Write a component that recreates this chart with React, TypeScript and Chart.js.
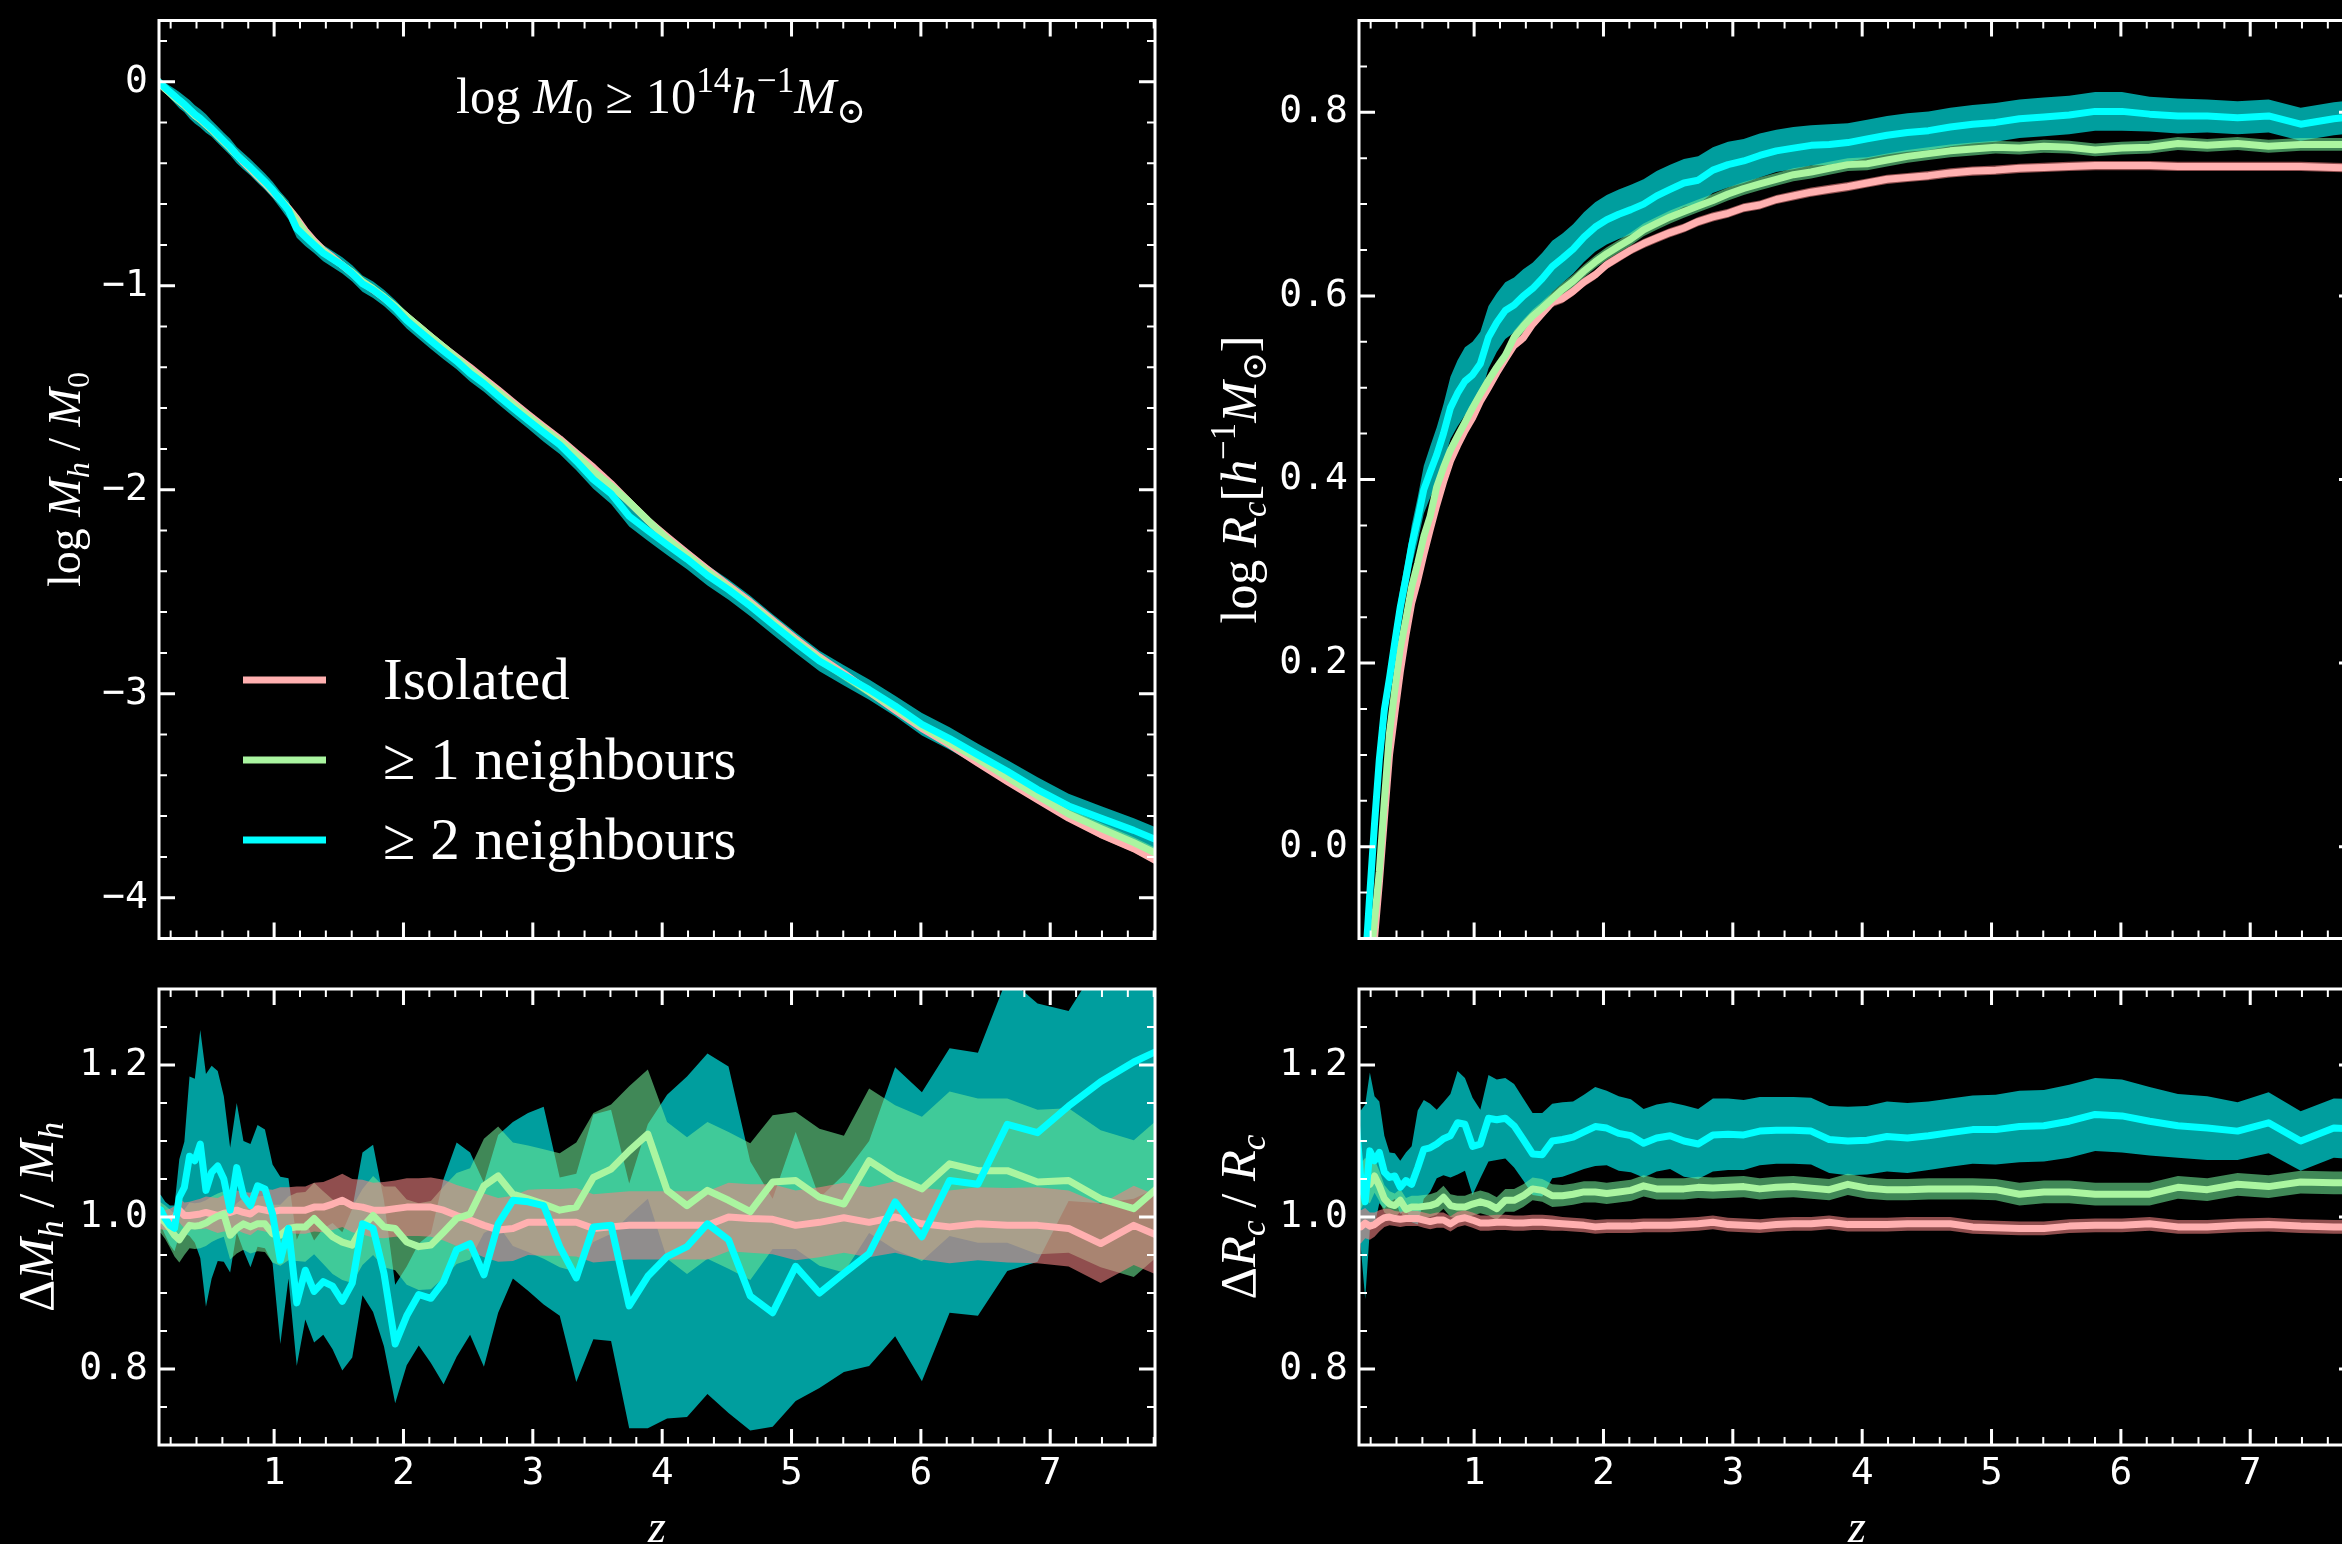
import { useEffect, useRef } from 'react';
import { Chart, registerables } from 'chart.js';

Chart.register(...registerables);

// Redshift of every snapshot (shared by all four panels)
const Z = [
  0.091, 0.124, 0.158, 0.194, 0.23, 0.267, 0.306, 0.346, 0.387, 0.429,
  0.473, 0.517, 0.564, 0.611, 0.66, 0.711, 0.763, 0.817, 0.872, 0.929,
  0.988, 1.048, 1.111, 1.175, 1.241, 1.309, 1.38, 1.452, 1.527, 1.604,
  1.683, 1.765, 1.849, 1.936, 2.025, 2.118, 2.212, 2.31, 2.411, 2.515,
  2.622, 2.732, 2.846, 2.963, 3.084, 3.208, 3.336, 3.468, 3.605, 3.745,
  3.889, 4.038, 4.192, 4.35, 4.513, 4.681, 4.854, 5.032, 5.216, 5.405,
  5.6, 5.801, 6.008, 6.222, 6.441, 6.668, 6.902, 7.142, 7.39, 7.646,
  7.909,
];

// ---- log M_h / M_0 (top left) ----
const MH_ISO = [
  0.01, -0.015, -0.035, -0.055, -0.075, -0.095, -0.115, -0.14, -0.165, -0.185,
  -0.21, -0.235, -0.265, -0.295, -0.325, -0.36, -0.395, -0.43, -0.465, -0.5,
  -0.54, -0.58, -0.62, -0.67, -0.73, -0.78, -0.825, -0.86, -0.9, -0.94,
  -0.985, -1.02, -1.06, -1.105, -1.15, -1.2, -1.25, -1.3, -1.35, -1.4,
  -1.455, -1.51, -1.57, -1.63, -1.69, -1.75, -1.82, -1.89, -1.97, -2.06,
  -2.15, -2.23, -2.31, -2.39, -2.47, -2.55, -2.64, -2.73, -2.82, -2.9,
  -2.99, -3.08, -3.17, -3.25, -3.34, -3.43, -3.52, -3.61, -3.69, -3.76,
  -3.85,
];
const MH_ISO_ERR = [
  0.012, 0.012, 0.012, 0.012, 0.012, 0.013, 0.013, 0.013, 0.013, 0.013,
  0.013, 0.013, 0.013, 0.013, 0.013, 0.014, 0.014, 0.014, 0.014, 0.014,
  0.014, 0.014, 0.014, 0.014, 0.014, 0.014, 0.014, 0.014, 0.014, 0.014,
  0.015, 0.015, 0.015, 0.015, 0.015, 0.015, 0.015, 0.015, 0.015, 0.015,
  0.015, 0.015, 0.015, 0.015, 0.015, 0.015, 0.015, 0.015, 0.015, 0.015,
  0.016, 0.016, 0.016, 0.016, 0.016, 0.016, 0.016, 0.016, 0.016, 0.016,
  0.016, 0.016, 0.016, 0.017, 0.017, 0.017, 0.017, 0.017, 0.017, 0.017,
  0.017,
];
const MH_ONE = [
  0.01, -0.015, -0.035, -0.055, -0.075, -0.095, -0.115, -0.14, -0.165, -0.185,
  -0.21, -0.235, -0.265, -0.295, -0.325, -0.36, -0.39, -0.425, -0.46, -0.495,
  -0.535, -0.575, -0.625, -0.68, -0.74, -0.79, -0.83, -0.865, -0.9, -0.935,
  -0.98, -1.015, -1.055, -1.1, -1.15, -1.2, -1.25, -1.3, -1.355, -1.41,
  -1.465, -1.52, -1.58, -1.64, -1.7, -1.76, -1.83, -1.91, -1.98, -2.06,
  -2.15, -2.24, -2.32, -2.4, -2.48, -2.56, -2.65, -2.74, -2.83, -2.91,
  -2.99, -3.07, -3.16, -3.24, -3.32, -3.41, -3.5, -3.59, -3.66, -3.73,
  -3.81,
];
const MH_ONE_ERR = [
  0.015, 0.016, 0.017, 0.018, 0.018, 0.019, 0.019, 0.02, 0.02, 0.02,
  0.02, 0.02, 0.02, 0.02, 0.02, 0.02, 0.02, 0.02, 0.02, 0.02,
  0.02, 0.021, 0.021, 0.021, 0.021, 0.021, 0.021, 0.021, 0.021, 0.021,
  0.021, 0.021, 0.021, 0.022, 0.022, 0.022, 0.022, 0.022, 0.022, 0.022,
  0.022, 0.022, 0.022, 0.022, 0.022, 0.023, 0.023, 0.023, 0.023, 0.023,
  0.023, 0.023, 0.023, 0.023, 0.024, 0.024, 0.024, 0.024, 0.024, 0.024,
  0.024, 0.025, 0.025, 0.025, 0.025, 0.025, 0.026, 0.026, 0.026, 0.026,
  0.026,
];
const MH_TWO = [
  0.01, -0.01, -0.03, -0.05, -0.07, -0.09, -0.11, -0.135, -0.16, -0.18,
  -0.205, -0.23, -0.26, -0.29, -0.32, -0.36, -0.39, -0.42, -0.455, -0.49,
  -0.53, -0.58, -0.63, -0.72, -0.76, -0.8, -0.84, -0.87, -0.9, -0.94,
  -0.99, -1.02, -1.06, -1.11, -1.17, -1.22, -1.27, -1.32, -1.37, -1.43,
  -1.48, -1.54, -1.6, -1.66, -1.72, -1.78, -1.86, -1.95, -2.02, -2.13,
  -2.2, -2.27, -2.34, -2.42, -2.49, -2.57, -2.66, -2.75, -2.84, -2.91,
  -2.98, -3.06, -3.15, -3.22, -3.3, -3.38, -3.47, -3.55, -3.61, -3.67,
  -3.74,
];
const MH_TWO_ERR = [
  0.015, 0.02, 0.025, 0.03, 0.035, 0.04, 0.04, 0.045, 0.045, 0.045,
  0.045, 0.04, 0.04, 0.04, 0.04, 0.04, 0.04, 0.04, 0.04, 0.04,
  0.04, 0.04, 0.045, 0.045, 0.045, 0.04, 0.04, 0.04, 0.04, 0.04,
  0.04, 0.04, 0.04, 0.04, 0.04, 0.04, 0.04, 0.04, 0.04, 0.04,
  0.04, 0.04, 0.04, 0.04, 0.045, 0.045, 0.045, 0.045, 0.05, 0.05,
  0.05, 0.05, 0.05, 0.05, 0.05, 0.05, 0.05, 0.05, 0.05, 0.05,
  0.05, 0.05, 0.055, 0.055, 0.055, 0.055, 0.06, 0.06, 0.06, 0.06,
  0.06,
];

// ---- log R_c (top right) ----
const RC_ISO = [
  -0.45, -0.33, -0.24, -0.155, -0.1, -0.04, 0.03, 0.1, 0.145, 0.19,
  0.23, 0.265, 0.29, 0.318, 0.345, 0.372, 0.397, 0.42, 0.437, 0.453,
  0.467, 0.485, 0.5, 0.516, 0.531, 0.546, 0.554, 0.569, 0.581, 0.593,
  0.597, 0.605, 0.615, 0.623, 0.634, 0.642, 0.65, 0.657, 0.663, 0.669,
  0.674, 0.681, 0.686, 0.69, 0.696, 0.699, 0.705, 0.709, 0.713, 0.716,
  0.719, 0.723, 0.727, 0.729, 0.731, 0.734, 0.736, 0.737, 0.739, 0.74,
  0.741, 0.742, 0.742, 0.742, 0.741, 0.741, 0.741, 0.741, 0.741, 0.74,
  0.739,
];
const RC_ISO_ERR = [
  0.008, 0.008, 0.008, 0.008, 0.007, 0.007, 0.007, 0.006, 0.006, 0.006,
  0.006, 0.006, 0.006, 0.006, 0.005, 0.005, 0.005, 0.005, 0.005, 0.005,
  0.005, 0.005, 0.005, 0.005, 0.005, 0.005, 0.005, 0.005, 0.005, 0.005,
  0.005, 0.005, 0.005, 0.005, 0.005, 0.005, 0.005, 0.005, 0.005, 0.005,
  0.005, 0.005, 0.005, 0.005, 0.005, 0.005, 0.005, 0.005, 0.005, 0.005,
  0.005, 0.005, 0.005, 0.005, 0.005, 0.005, 0.005, 0.005, 0.005, 0.005,
  0.005, 0.005, 0.005, 0.005, 0.005, 0.005, 0.005, 0.005, 0.005, 0.005,
  0.005,
];
const RC_ONE = [
  -0.38, -0.28, -0.2, -0.13, -0.08, -0.027, 0.05, 0.124, 0.171, 0.216,
  0.248, 0.283, 0.309, 0.338, 0.36, 0.392, 0.413, 0.432, 0.447, 0.462,
  0.478, 0.493, 0.508, 0.522, 0.535, 0.555, 0.567, 0.578, 0.587, 0.597,
  0.607, 0.616, 0.627, 0.637, 0.646, 0.654, 0.662, 0.672, 0.679, 0.686,
  0.692, 0.698, 0.704, 0.711, 0.717, 0.722, 0.727, 0.732, 0.735, 0.739,
  0.743, 0.744, 0.748, 0.752, 0.755, 0.758, 0.76, 0.762, 0.761, 0.763,
  0.762, 0.759, 0.761, 0.762, 0.766, 0.764, 0.766, 0.763, 0.765, 0.765,
  0.765,
];
const RC_ONE_ERR = [
  0.01, 0.01, 0.01, 0.01, 0.01, 0.01, 0.01, 0.01, 0.01, 0.01,
  0.008, 0.008, 0.008, 0.008, 0.008, 0.008, 0.008, 0.008, 0.008, 0.008,
  0.007, 0.007, 0.007, 0.007, 0.007, 0.007, 0.007, 0.007, 0.007, 0.007,
  0.007, 0.007, 0.007, 0.007, 0.007, 0.007, 0.007, 0.007, 0.007, 0.007,
  0.007, 0.007, 0.007, 0.007, 0.007, 0.007, 0.007, 0.007, 0.007, 0.007,
  0.007, 0.007, 0.007, 0.007, 0.007, 0.007, 0.007, 0.007, 0.007, 0.007,
  0.007, 0.007, 0.007, 0.007, 0.007, 0.007, 0.007, 0.007, 0.007, 0.007,
  0.007,
];
const RC_TWO = [
  -0.3, -0.2, -0.13, -0.05, 0.025, 0.095, 0.149, 0.184, 0.223, 0.261,
  0.293, 0.328, 0.357, 0.389, 0.408, 0.427, 0.45, 0.478, 0.494, 0.507,
  0.514, 0.526, 0.555, 0.571, 0.584, 0.59, 0.6, 0.608, 0.619, 0.632,
  0.641, 0.651, 0.664, 0.675, 0.683, 0.689, 0.694, 0.7, 0.709, 0.716,
  0.723, 0.726, 0.737, 0.743, 0.747, 0.753, 0.758, 0.761, 0.764, 0.765,
  0.767, 0.771, 0.775, 0.778, 0.78, 0.784, 0.787, 0.789, 0.793, 0.795,
  0.797, 0.801, 0.801, 0.798, 0.796, 0.796, 0.794, 0.796, 0.787, 0.793,
  0.797,
];
const RC_TWO_ERR = [
  0.015, 0.015, 0.015, 0.015, 0.016, 0.017, 0.018, 0.019, 0.02, 0.02,
  0.02, 0.022, 0.024, 0.026, 0.028, 0.03, 0.032, 0.034, 0.036, 0.037,
  0.036, 0.035, 0.034, 0.032, 0.031, 0.03, 0.029, 0.028, 0.028, 0.028,
  0.027, 0.027, 0.027, 0.027, 0.027, 0.027, 0.027, 0.027, 0.027, 0.027,
  0.026, 0.026, 0.025, 0.025, 0.024, 0.024, 0.023, 0.023, 0.022, 0.022,
  0.021, 0.021, 0.021, 0.021, 0.021, 0.021, 0.021, 0.021, 0.021, 0.021,
  0.021, 0.021, 0.021, 0.019, 0.019, 0.018, 0.018, 0.018, 0.018, 0.018,
  0.018,
];

// ---- Delta M_h / M_h (bottom left) ----
const DM_ISO = [
  0.996, 0.996, 0.996, 0.997, 0.999, 1.009, 1.002, 1.002, 1.003, 1.004,
  1.006, 1.004, 1.002, 1.005, 1.006, 1.009, 1.006, 1.004, 1.011, 1.009,
  1.007, 1.009, 1.009, 1.009, 1.009, 1.013, 1.013, 1.017, 1.022, 1.015,
  1.013, 1.009, 1.009, 1.011, 1.013, 1.013, 1.013, 1.009, 1.002, 0.996,
  0.989, 0.983, 0.985, 0.993, 0.993, 0.993, 0.993, 0.985, 0.987, 0.989,
  0.989, 0.989, 0.989, 0.989, 1.0, 0.998, 0.997, 0.989, 0.993, 0.999,
  0.993, 1.0, 0.991, 0.987, 0.991, 0.989, 0.989, 0.985, 0.965, 0.989,
  0.97,
];
const DM_ISO_ERR = [
  0.012, 0.012, 0.013, 0.014, 0.015, 0.016, 0.017, 0.018, 0.019, 0.02,
  0.021, 0.022, 0.023, 0.024, 0.025, 0.026, 0.027, 0.028, 0.028, 0.028,
  0.029, 0.03, 0.03, 0.031, 0.031, 0.032, 0.033, 0.034, 0.035, 0.035,
  0.036, 0.036, 0.037, 0.037, 0.038, 0.038, 0.039, 0.04, 0.04, 0.041,
  0.042, 0.042, 0.043, 0.043, 0.044, 0.044, 0.045, 0.045, 0.045, 0.045,
  0.045, 0.045, 0.045, 0.045, 0.045, 0.045, 0.046, 0.046, 0.046, 0.046,
  0.046, 0.047, 0.047, 0.048, 0.048, 0.049, 0.05, 0.05, 0.052, 0.052,
  0.052,
];
const DM_ONE = [
  1.0, 0.999, 0.993, 0.985, 0.976, 0.97, 0.98, 0.989, 0.988, 0.989,
  0.992, 0.997, 1.001, 1.004, 0.976, 0.985, 0.991, 0.987, 0.991, 0.991,
  0.978, 0.976, 0.985, 0.987, 0.987, 0.998, 0.986, 0.974, 0.967, 0.963,
  0.987, 1.002, 0.987, 0.985, 0.967, 0.961, 0.963, 0.98, 0.998, 1.004,
  1.041, 1.054, 1.03, 1.024, 1.017, 1.009, 1.013, 1.052, 1.063, 1.087,
  1.109, 1.035, 1.015, 1.035, 1.022, 1.007, 1.046, 1.048, 1.026, 1.017,
  1.074, 1.052, 1.037, 1.07, 1.061, 1.061, 1.046, 1.048, 1.024, 1.011,
  1.05,
];
const DM_ONE_ERR = [
  0.02, 0.02, 0.022, 0.025, 0.028, 0.03, 0.03, 0.03, 0.03, 0.03,
  0.03, 0.03, 0.03, 0.03, 0.032, 0.033, 0.034, 0.035, 0.036, 0.037,
  0.038, 0.04, 0.042, 0.045, 0.046, 0.047, 0.048, 0.049, 0.05, 0.05,
  0.05, 0.052, 0.053, 0.055, 0.056, 0.057, 0.058, 0.06, 0.06, 0.06,
  0.062, 0.065, 0.068, 0.07, 0.072, 0.075, 0.085, 0.085, 0.085, 0.085,
  0.085, 0.09, 0.09, 0.09, 0.09, 0.09, 0.088, 0.09, 0.09, 0.09,
  0.095, 0.095, 0.095, 0.095, 0.095, 0.095, 0.095, 0.095, 0.09, 0.09,
  0.09,
];
const DM_TWO = [
  1.012, 1.009, 0.998, 0.989, 0.985, 1.026, 1.039, 1.08, 1.074, 1.096,
  1.035, 1.059, 1.067, 1.05, 1.009, 1.065, 1.028, 1.015, 1.041, 1.037,
  1.004, 0.943, 0.985, 0.887, 0.93, 0.902, 0.915, 0.909, 0.889, 0.913,
  0.991, 0.985, 0.926, 0.833, 0.87, 0.898, 0.893, 0.915, 0.957, 0.965,
  0.924, 0.991, 1.022, 1.02, 1.015, 0.961, 0.92, 0.987, 0.989, 0.883,
  0.922, 0.948, 0.961, 0.991, 0.97, 0.896, 0.874, 0.935, 0.9, 0.926,
  0.952, 1.02, 0.974, 1.048, 1.043, 1.122, 1.111, 1.146, 1.178, 1.204,
  1.225,
];
const DM_TWO_ERR = [
  0.02, 0.02, 0.022, 0.026, 0.03, 0.05, 0.06, 0.105, 0.108, 0.15,
  0.153, 0.14, 0.125, 0.109, 0.082, 0.085, 0.072, 0.081, 0.08, 0.078,
  0.065, 0.11, 0.066, 0.083, 0.065, 0.067, 0.07, 0.083, 0.091, 0.098,
  0.094, 0.11, 0.096, 0.078, 0.065, 0.067, 0.085, 0.135, 0.141, 0.12,
  0.121, 0.117, 0.103, 0.117, 0.13, 0.091, 0.137, 0.148, 0.152, 0.161,
  0.2, 0.213, 0.224, 0.224, 0.228, 0.177, 0.15, 0.177, 0.125, 0.13,
  0.148, 0.177, 0.19, 0.174, 0.173, 0.193, 0.17, 0.125, 0.16, 0.18,
  0.18,
];

// ---- Delta R_c / R_c (bottom right) ----
const DR_ISO = [
  0.99, 0.987, 0.992, 0.988, 0.99, 0.995, 0.999, 1.0, 0.998, 0.997,
  0.998, 0.998, 0.998, 0.996, 0.994, 0.996, 0.996, 0.991, 0.997, 0.999,
  0.996, 0.992, 0.992, 0.993, 0.993, 0.992, 0.992, 0.993, 0.993, 0.992,
  0.991, 0.99, 0.989, 0.987, 0.988, 0.988, 0.988, 0.989, 0.989, 0.989,
  0.99, 0.991, 0.993, 0.99, 0.989, 0.988, 0.99, 0.991, 0.991, 0.993,
  0.99, 0.99, 0.99, 0.991, 0.991, 0.991, 0.987, 0.986, 0.985, 0.985,
  0.988, 0.989, 0.989, 0.991, 0.987, 0.987, 0.989, 0.99, 0.988, 0.987,
  0.987,
];
const DR_ISO_ERR = [
  0.022, 0.022, 0.02, 0.018, 0.016, 0.014, 0.012, 0.011, 0.01, 0.01,
  0.01, 0.01, 0.01, 0.01, 0.01, 0.01, 0.01, 0.01, 0.01, 0.01,
  0.01, 0.01, 0.01, 0.01, 0.01, 0.01, 0.01, 0.01, 0.01, 0.01,
  0.009, 0.009, 0.009, 0.009, 0.009, 0.009, 0.009, 0.009, 0.009, 0.009,
  0.009, 0.009, 0.009, 0.009, 0.009, 0.009, 0.009, 0.009, 0.009, 0.009,
  0.009, 0.009, 0.009, 0.009, 0.009, 0.009, 0.009, 0.009, 0.009, 0.009,
  0.009, 0.009, 0.009, 0.009, 0.009, 0.009, 0.009, 0.009, 0.009, 0.009,
  0.009,
];
const DR_ONE = [
  1.03, 1.04, 1.05, 1.043, 1.054, 1.041, 1.024, 1.017, 1.015, 1.022,
  1.01, 1.013, 1.013, 1.014, 1.015, 1.018, 1.026, 1.015, 1.013, 1.013,
  1.017, 1.02, 1.017, 1.011, 1.022, 1.022, 1.028, 1.037, 1.035, 1.028,
  1.028, 1.03, 1.033, 1.033, 1.031, 1.033, 1.035, 1.041, 1.037, 1.037,
  1.037, 1.039, 1.038, 1.039, 1.04, 1.037, 1.039, 1.04, 1.038, 1.036,
  1.043, 1.038, 1.036, 1.036, 1.037, 1.037, 1.037, 1.036, 1.03, 1.033,
  1.033, 1.03, 1.03, 1.03, 1.039, 1.036, 1.043, 1.04, 1.046, 1.045,
  1.045,
];
const DR_ONE_ERR = [
  0.03, 0.03, 0.028, 0.025, 0.022, 0.02, 0.018, 0.017, 0.016, 0.015,
  0.015, 0.015, 0.015, 0.015, 0.015, 0.015, 0.015, 0.015, 0.015, 0.015,
  0.015, 0.015, 0.015, 0.015, 0.015, 0.015, 0.015, 0.015, 0.015, 0.015,
  0.014, 0.014, 0.014, 0.014, 0.014, 0.014, 0.014, 0.014, 0.014, 0.014,
  0.014, 0.014, 0.014, 0.014, 0.014, 0.014, 0.014, 0.014, 0.014, 0.014,
  0.014, 0.014, 0.014, 0.014, 0.014, 0.014, 0.014, 0.014, 0.015, 0.015,
  0.015, 0.015, 0.015, 0.015, 0.015, 0.015, 0.015, 0.015, 0.015, 0.015,
  0.015,
];
const DR_TWO = [
  1.12, 1.05, 1.02, 1.087, 1.074, 1.085, 1.059, 1.052, 1.054, 1.039,
  1.048, 1.043, 1.065, 1.089, 1.091, 1.096, 1.103, 1.107, 1.124, 1.122,
  1.093, 1.096, 1.13, 1.128, 1.13, 1.12, 1.102, 1.083, 1.082, 1.1,
  1.102, 1.105, 1.112, 1.119, 1.117, 1.11, 1.107, 1.097, 1.104, 1.107,
  1.1, 1.096, 1.108, 1.109, 1.108, 1.113, 1.114, 1.114, 1.113, 1.102,
  1.1, 1.101, 1.106, 1.104, 1.107, 1.111, 1.115, 1.115, 1.119, 1.12,
  1.126, 1.135, 1.133, 1.126, 1.12, 1.117, 1.113, 1.124, 1.1, 1.117,
  1.115,
];
const DR_TWO_ERR = [
  0.08, 0.09, 0.128, 0.103, 0.085, 0.067, 0.048, 0.033, 0.03, 0.035,
  0.037, 0.05, 0.075, 0.065, 0.058, 0.045, 0.048, 0.055, 0.068, 0.061,
  0.064, 0.045, 0.057, 0.053, 0.053, 0.055, 0.054, 0.054, 0.055, 0.049,
  0.049, 0.047, 0.049, 0.052, 0.049, 0.049, 0.048, 0.045, 0.044, 0.044,
  0.047, 0.046, 0.048, 0.047, 0.046, 0.045, 0.044, 0.044, 0.044, 0.044,
  0.045, 0.045, 0.046, 0.046, 0.045, 0.045, 0.045, 0.046, 0.047, 0.047,
  0.048, 0.048, 0.048, 0.045, 0.042, 0.042, 0.038, 0.04, 0.039, 0.039,
  0.04,
];

// ---- axes ----
const X_MIN = 0.11;
const X_MAX = 7.81;
const X_MAJOR = [1, 2, 3, 4, 5, 6, 7];
const Y_MAJOR_MH = [0, -1, -2, -3, -4];
const Y_MAJOR_RC = [0, 0.2, 0.4, 0.6, 0.8];
const Y_MAJOR_RATIO = [0.8, 1.0, 1.2];

const LABELS = ['Isolated', '≥ 1 neighbours', '≥ 2 neighbours'];
const LINE_COLORS = ['#ffb0b0', '#aaf5a0', '#00ffff'];
const BAND_COLORS = ['rgba(240,130,130,0.6)', 'rgba(110,235,150,0.58)', 'rgba(0,255,255,0.62)'];

const SERIF = '"Liberation Serif", "DejaVu Serif", serif';
const MONO = '"DejaVu Sans Mono", monospace';

type Seg = { t: string; i?: boolean; sub?: boolean; sup?: boolean };

function layoutRich(ctx: CanvasRenderingContext2D, segs: Seg[], size: number) {
  let w = 0;
  const parts = segs.map((s) => {
    const fs = s.sub || s.sup ? size * 0.7 : size;
    const font = `${s.i ? 'italic ' : ''}${fs}px ${SERIF}`;
    ctx.font = font;
    const pw = ctx.measureText(s.t).width;
    const p = { t: s.t, font, x: w, dy: s.sub ? size * 0.2 : s.sup ? -size * 0.42 : 0 };
    w += pw;
    return p;
  });
  return { parts, w };
}

function drawRich(
  ctx: CanvasRenderingContext2D,
  segs: Seg[],
  x: number,
  y: number,
  opt: { size?: number; fit?: number; rot?: boolean },
) {
  let size = opt.size ?? 44;
  if (opt.fit) {
    const m = layoutRich(ctx, segs, 100);
    size = (100 * opt.fit) / m.w;
  }
  const { parts, w } = layoutRich(ctx, segs, size);
  ctx.save();
  ctx.translate(x, y);
  if (opt.rot) ctx.rotate(-Math.PI / 2);
  ctx.fillStyle = '#ffffff';
  ctx.textAlign = 'left';
  ctx.textBaseline = 'alphabetic';
  for (const p of parts) {
    ctx.font = p.font;
    ctx.fillText(p.t, -w / 2 + p.x, p.dy);
  }
  ctx.restore();
}

function minorTicks(min: number, max: number, step: number, majors: number[]) {
  const out: number[] = [];
  const n0 = Math.ceil(min / step - 1e-6);
  const n1 = Math.floor(max / step + 1e-6);
  for (let n = n0; n <= n1; n++) {
    const v = +(n * step).toFixed(4);
    if (v <= min + 1e-6 || v >= max - 1e-6) continue;
    if (majors.some((m) => Math.abs(m - v) < 1e-6)) continue;
    out.push(v);
  }
  return out;
}

const TITLE_MH: Seg[] = [
  { t: 'log ' }, { t: 'M', i: true }, { t: 'h', i: true, sub: true }, { t: ' / ' },
  { t: 'M', i: true }, { t: '0', sub: true },
];
const TITLE_RC: Seg[] = [
  { t: 'log ' }, { t: 'R', i: true }, { t: 'c', i: true, sub: true }, { t: '[' },
  { t: 'h', i: true }, { t: '−1', sup: true }, { t: 'M', i: true }, { t: '⊙', sub: true }, { t: ']' },
];
const TITLE_DM: Seg[] = [
  { t: 'Δ' }, { t: 'M', i: true }, { t: 'h', i: true, sub: true }, { t: ' / ' },
  { t: 'M', i: true }, { t: 'h', i: true, sub: true },
];
const TITLE_DR: Seg[] = [
  { t: 'Δ' }, { t: 'R', i: true }, { t: 'c', i: true, sub: true }, { t: ' / ' },
  { t: 'R', i: true }, { t: 'c', i: true, sub: true },
];
const NOTE: Seg[] = [
  { t: 'log ' }, { t: 'M', i: true }, { t: '0', sub: true }, { t: ' ≥ ' }, { t: '10' },
  { t: '14', sup: true }, { t: 'h', i: true }, { t: '−1', sup: true }, { t: 'M', i: true },
  { t: '⊙', sub: true },
];

type Panel = {
  key: string;
  cx: number; cy: number; cw: number; ch: number;
  area: { l: number; t: number; r: number; b: number };
  yMin: number; yMax: number; yMajor: number[]; yMinor: number[];
  fmt: (v: number) => string;
  showX: boolean;
  series: number[][][];
  yTitle: Seg[]; yTitleX: number; yTitleFit: number;
  legend?: boolean;
};

const fmtMH = (v: number) => (v === 0 ? '0' : '−' + Math.abs(v));
const fmt1 = (v: number) => v.toFixed(1);

const PANELS: Panel[] = [
  {
    key: 'mh', cx: 0, cy: -40, cw: 1240, ch: 1020,
    area: { l: 159, t: 20.5, r: 1155, b: 938.5 },
    yMin: -4.2, yMax: 0.3, yMajor: Y_MAJOR_MH, yMinor: minorTicks(-4.2, 0.3, 0.2, Y_MAJOR_MH),
    fmt: fmtMH, showX: false,
    series: [[MH_ISO, MH_ISO_ERR], [MH_ONE, MH_ONE_ERR], [MH_TWO, MH_TWO_ERR]],
    yTitle: TITLE_MH, yTitleX: 80, yTitleFit: 215, legend: true,
  },
  {
    key: 'rc', cx: 1200, cy: -40, cw: 1220, ch: 1020,
    area: { l: 1359, t: 20.5, r: 2355, b: 938.5 },
    yMin: -0.1, yMax: 0.9, yMajor: Y_MAJOR_RC, yMinor: minorTicks(-0.1, 0.9, 0.05, Y_MAJOR_RC),
    fmt: fmt1, showX: false,
    series: [[RC_ISO, RC_ISO_ERR], [RC_ONE, RC_ONE_ERR], [RC_TWO, RC_TWO_ERR]],
    yTitle: TITLE_RC, yTitleX: 1256, yTitleFit: 288,
  },
  {
    key: 'dm', cx: 0, cy: 940, cw: 1240, ch: 604,
    area: { l: 159, t: 989, r: 1155, b: 1445 },
    yMin: 0.7, yMax: 1.3, yMajor: Y_MAJOR_RATIO, yMinor: minorTicks(0.7, 1.3, 0.05, Y_MAJOR_RATIO),
    fmt: fmt1, showX: true,
    series: [[DM_ISO, DM_ISO_ERR], [DM_ONE, DM_ONE_ERR], [DM_TWO, DM_TWO_ERR]],
    yTitle: TITLE_DM, yTitleX: 53, yTitleFit: 190,
  },
  {
    key: 'dr', cx: 1200, cy: 940, cw: 1220, ch: 604,
    area: { l: 1359, t: 989, r: 2355, b: 1445 },
    yMin: 0.7, yMax: 1.3, yMajor: Y_MAJOR_RATIO, yMinor: minorTicks(0.7, 1.3, 0.05, Y_MAJOR_RATIO),
    fmt: fmt1, showX: true,
    series: [[DR_ISO, DR_ISO_ERR], [DR_ONE, DR_ONE_ERR], [DR_TWO, DR_TWO_ERR]],
    yTitle: TITLE_DR, yTitleX: 1255, yTitleFit: 165,
  },
];

const X_MINOR = minorTicks(X_MIN, X_MAX, 0.2, X_MAJOR);

function framePlugin(p: Panel) {
  return {
    id: 'frame_' + p.key,
    afterDraw(chart: any) {
      const ctx: CanvasRenderingContext2D = chart.ctx;
      const a = chart.chartArea;
      const xs = chart.scales.x;
      const ys = chart.scales.y;
      ctx.save();
      ctx.strokeStyle = '#ffffff';
      ctx.lineCap = 'butt';
      const xTick = (v: number, len: number, w: number) => {
        const px = xs.getPixelForValue(v);
        ctx.lineWidth = w;
        ctx.beginPath();
        ctx.moveTo(px, a.bottom);
        ctx.lineTo(px, a.bottom - len);
        ctx.moveTo(px, a.top);
        ctx.lineTo(px, a.top + len);
        ctx.stroke();
      };
      const yTick = (v: number, len: number, w: number) => {
        const py = ys.getPixelForValue(v);
        ctx.lineWidth = w;
        ctx.beginPath();
        ctx.moveTo(a.left, py);
        ctx.lineTo(a.left + len, py);
        ctx.moveTo(a.right, py);
        ctx.lineTo(a.right - len, py);
        ctx.stroke();
      };
      X_MINOR.forEach((v) => xTick(v, 8, 2));
      X_MAJOR.forEach((v) => xTick(v, 16, 3));
      p.yMinor.forEach((v) => yTick(v, 8, 2));
      p.yMajor.forEach((v) => yTick(v, 16, 3));
      ctx.lineWidth = 3;
      ctx.strokeRect(a.left, a.top, a.right - a.left, a.bottom - a.top);

      drawRich(ctx, p.yTitle, p.yTitleX - p.cx, (p.area.t + p.area.b) / 2 - p.cy, {
        fit: p.yTitleFit,
        rot: true,
      });
      if (p.showX) {
        drawRich(ctx, [{ t: 'z', i: true }], (p.area.l + p.area.r) / 2 - p.cx, 1542 - p.cy, { size: 46 });
      }
      if (p.legend) {
        drawRich(ctx, NOTE, 661 - p.cx, 113 - p.cy, { fit: 410 });
        const ds = chart.data.datasets;
        [2, 1, 0].forEach((di, row) => {
          const y = 680 + row * 80 - p.cy;
          ctx.strokeStyle = ds[di].borderColor;
          ctx.lineWidth = 7;
          ctx.beginPath();
          ctx.moveTo(243 - p.cx, y);
          ctx.lineTo(326 - p.cx, y);
          ctx.stroke();
          ctx.fillStyle = '#ffffff';
          ctx.font = `59px ${SERIF}`;
          ctx.textAlign = 'left';
          ctx.textBaseline = 'alphabetic';
          ctx.fillText(ds[di].label, 383 - p.cx, y + 19);
        });
      }
      ctx.restore();
    },
  };
}

function buildConfig(p: Panel): any {
  const line = (gi: number, order: number) => ({
    label: LABELS[gi],
    data: Z.map((z, i) => ({ x: z, y: p.series[gi][0][i] })),
    borderColor: LINE_COLORS[gi],
    backgroundColor: LINE_COLORS[gi],
    borderWidth: 7,
    borderJoinStyle: 'round',
    borderCapStyle: 'butt',
    pointRadius: 0,
    tension: 0,
    fill: false,
    clip: 0,
    order,
  });
  const band = (gi: number, order: number) => [
    {
      label: LABELS[gi] + ' +σ',
      data: Z.map((z, i) => ({ x: z, y: p.series[gi][0][i] + p.series[gi][1][i] })),
      borderColor: 'rgba(0,0,0,0)',
      borderWidth: 0,
      backgroundColor: BAND_COLORS[gi],
      pointRadius: 0,
      tension: 0,
      fill: '+1',
      clip: 0,
      order,
    },
    {
      label: LABELS[gi] + ' −σ',
      data: Z.map((z, i) => ({ x: z, y: p.series[gi][0][i] - p.series[gi][1][i] })),
      borderColor: 'rgba(0,0,0,0)',
      borderWidth: 0,
      backgroundColor: 'rgba(0,0,0,0)',
      pointRadius: 0,
      tension: 0,
      fill: false,
      clip: 0,
      order,
    },
  ];
  const yAxisWidth = p.area.l - p.cx;
  const xAxisHeight = p.cy + p.ch - p.area.b;
  return {
    type: 'line',
    data: {
      datasets: [line(2, 0), line(1, 1), line(0, 2), ...band(0, 3), ...band(1, 4), ...band(2, 5)],
    },
    options: {
      responsive: false,
      animation: false,
      events: [],
      devicePixelRatio: 1,
      layout: {
        padding: { left: 0, bottom: 0, top: p.area.t - p.cy, right: p.cx + p.cw - p.area.r },
      },
      plugins: {
        legend: { display: false },
        tooltip: { enabled: false },
        title: { display: false },
      },
      scales: {
        x: {
          type: 'linear',
          min: X_MIN,
          max: X_MAX,
          grid: { display: false, drawTicks: false },
          border: { display: false },
          afterBuildTicks: (s: any) => {
            s.ticks = X_MAJOR.map((v) => ({ value: v }));
          },
          afterFit: (s: any) => {
            s.height = xAxisHeight;
          },
          ticks: {
            display: p.showX,
            color: '#ffffff',
            font: { family: MONO, size: 38 },
            padding: 6,
            autoSkip: false,
            maxRotation: 0,
            minRotation: 0,
            callback: (v: number) => String(v),
          },
        },
        y: {
          type: 'linear',
          min: p.yMin,
          max: p.yMax,
          grid: { display: false, drawTicks: false },
          border: { display: false },
          afterBuildTicks: (s: any) => {
            s.ticks = p.yMajor.map((v) => ({ value: v }));
          },
          afterFit: (s: any) => {
            s.width = yAxisWidth;
          },
          ticks: {
            color: '#ffffff',
            font: { family: MONO, size: 38 },
            padding: 11,
            autoSkip: false,
            callback: (v: number) => p.fmt(v),
          },
        },
      },
    },
    plugins: [framePlugin(p)],
  };
}

function PanelChart({ p }: { p: Panel }) {
  const ref = useRef<HTMLCanvasElement | null>(null);
  useEffect(() => {
    if (!ref.current) return;
    const chart = new Chart(ref.current, buildConfig(p));
    return () => chart.destroy();
  }, [p]);
  return (
    <canvas
      ref={ref}
      width={p.cw}
      height={p.ch}
      style={{ position: 'absolute', left: p.cx, top: p.cy, width: p.cw, height: p.ch }}
    />
  );
}

export default function App() {
  return (
    <div
      style={{
        position: 'fixed',
        left: 0,
        top: 0,
        width: 2342,
        height: 1544,
        background: '#000000',
        overflow: 'hidden',
      }}
    >
      {PANELS.map((p) => (
        <PanelChart key={p.key} p={p} />
      ))}
    </div>
  );
}
